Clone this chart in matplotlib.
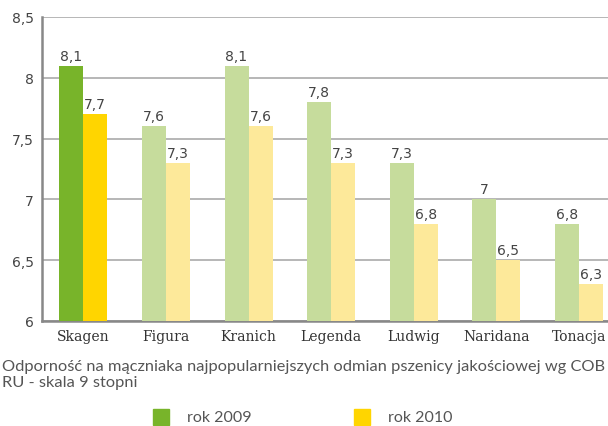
import numpy as np
import matplotlib
matplotlib.use("Agg")
import matplotlib.pyplot as plt

# data
odmiany = ['Skagen', 'Figura', 'Kranich', 'Legenda', 'Ludwig', 'Naridana', 'Tonacja']
rok_2009 = [8.1, 7.6, 8.1, 7.8, 7.3, 7.0, 6.8]
rok_2010 = [7.7, 7.3, 7.6, 7.3, 6.8, 6.5, 6.3]
y_ticks = [6, 6.5, 7, 7.5, 8, 8.5]

green_dark, yellow_dark = '#78b42a', '#ffd500'
green_light, yellow_light = '#c6dc9c', '#fde99a'

fig = plt.figure(figsize=(6.08, 4.27), dpi=100)
ax = fig.add_axes([0.069, 0.246, 0.931, 0.712])

x = np.arange(len(odmiany))
w = 0.29
c09 = [green_dark] + [green_light] * (len(odmiany) - 1)
c10 = [yellow_dark] + [yellow_light] * (len(odmiany) - 1)
ax.bar(x - w / 2, [v - 6 for v in rok_2009], w, bottom=6, color=c09, zorder=3)
ax.bar(x + w / 2, [v - 6 for v in rok_2010], w, bottom=6, color=c10, zorder=3)

def fmt(v):
    return ('%g' % v).replace('.', ',')

for xi, v in zip(x, rok_2009):
    ax.text(xi - w / 2, v + 0.025, fmt(v), ha='center', va='bottom', fontsize=10, color='#444444')
for xi, v in zip(x, rok_2010):
    ax.text(xi + w / 2, v + 0.025, fmt(v), ha='center', va='bottom', fontsize=10, color='#444444')

ax.set_xlim(-0.5, 6.35)
ax.set_ylim(6, 8.5)
ax.set_yticks(y_ticks)
ax.set_yticklabels([fmt(t) for t in y_ticks], fontsize=10, color='#444444')
ax.set_xticks(x)
ax.set_xticklabels(odmiany, fontsize=10, color='#333333', family='DejaVu Serif')
ax.tick_params(length=0, pad=6)
ax.grid(axis='y', color='#aaaaaa', linewidth=1.2, zorder=0)
for s in ['top', 'right']:
    ax.spines[s].set_visible(False)
for s in ['left', 'bottom']:
    ax.spines[s].set_color('#888888')
    ax.spines[s].set_linewidth(1.8)

fig.text(0.003, 1 - 375 / 427,
         'Odporność na mączniaka najpopularniejszych odmian pszenicy jakościowej wg COB\nRU - skala 9 stopni',
         fontsize=11.8, color='#555555', va='center', linespacing=1.2, family='Lato')

fig.patches.append(plt.Rectangle((153 / 608, 0.002), 16 / 608, 16 / 427,
                                 transform=fig.transFigure, color=green_dark))
fig.patches.append(plt.Rectangle((354 / 608, 0.002), 16 / 608, 16 / 427,
                                 transform=fig.transFigure, color=yellow_dark))
fig.text(187 / 608, 0.022, 'rok 2009', fontsize=11.5, color='#555555', va='center', family='Lato')
fig.text(388 / 608, 0.022, 'rok 2010', fontsize=11.5, color='#555555', va='center', family='Lato')

fig.savefig('out.png', dpi=100)
